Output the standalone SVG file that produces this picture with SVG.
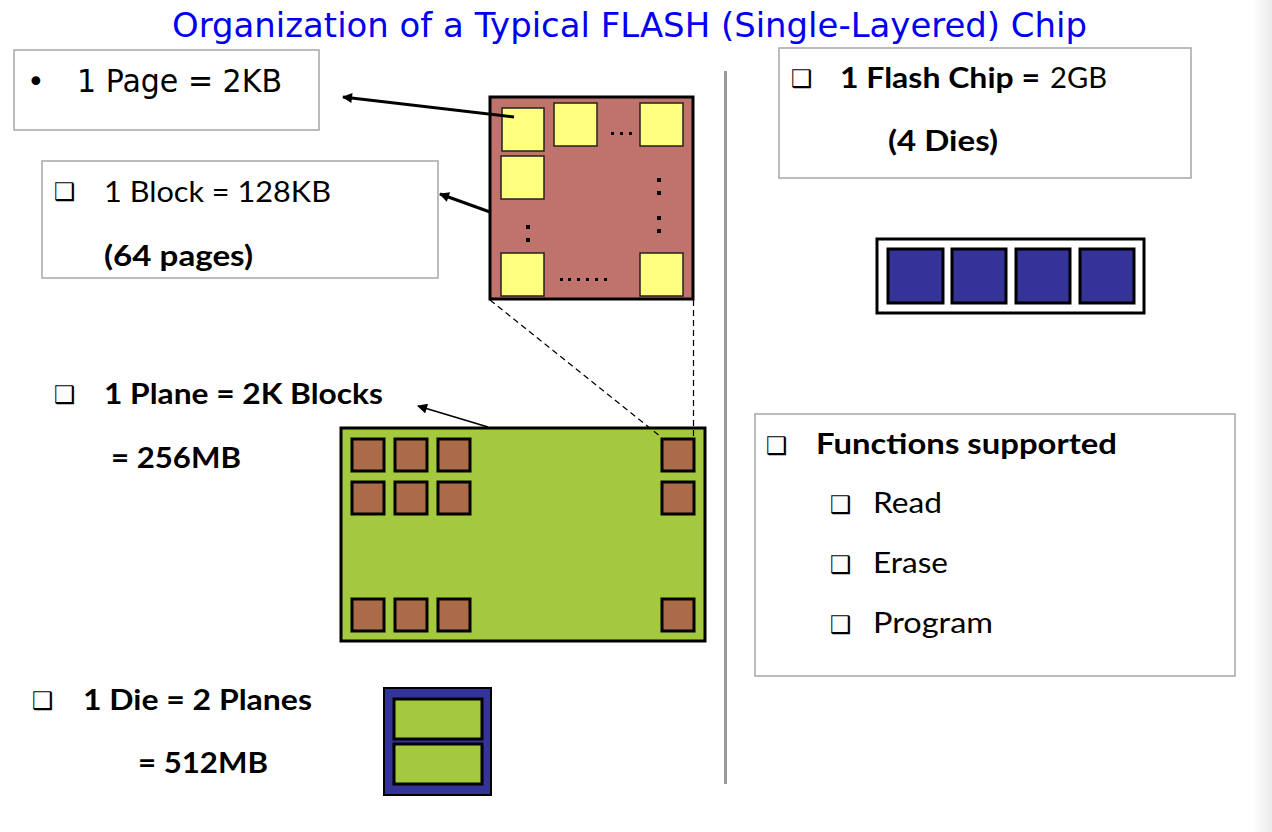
<svg xmlns="http://www.w3.org/2000/svg" width="1272" height="832" viewBox="0 0 1272 832">
<style>
.box{fill:#fff;stroke:#a6a6a6;stroke-width:1.5}
.comic{font-family:"DejaVu Sans",sans-serif;fill:#000}
.t{font-family:Lato,"Liberation Sans",sans-serif;fill:#000;font-size:28px}
.b{font-weight:bold}
.bul{font-family:"DejaVu Sans",sans-serif;font-size:24px;fill:#000;font-weight:bold}
.page{fill:#ffff80;stroke:#222;stroke-width:1.5}
.cell{fill:#ab6a48;stroke:#000;stroke-width:3}
.die{fill:#333399;stroke:#000;stroke-width:3}
.pl{fill:#a5c93e;stroke:#000;stroke-width:3}
.dot{fill:#000}
.arr{stroke:#000;fill:none}
.dash{stroke:#000;stroke-width:1.2;stroke-dasharray:6 4;fill:none}
</style>
<defs>
<marker id="ah" viewBox="0 0 10 10" refX="9" refY="5" markerWidth="12" markerHeight="10" markerUnits="userSpaceOnUse" orient="auto">
<path d="M0,0 L10,5 L0,10 z" fill="#000"/>
</marker>
<marker id="ahs" viewBox="0 0 10 10" refX="9" refY="5" markerWidth="12" markerHeight="10" markerUnits="userSpaceOnUse" orient="auto">
<path d="M0,0 L10,5 L0,10 z" fill="#000"/>
</marker>
<linearGradient id="edge" x1="0" y1="0" x2="1" y2="0">
<stop offset="0" stop-color="#fff"/>
<stop offset="1" stop-color="#ececec"/>
</linearGradient>
</defs>
<rect width="1272" height="832" fill="#fff"/>
<rect x="1252" y="0" width="20" height="832" fill="url(#edge)"/>

<text x="172" y="37" font-family="'DejaVu Sans',sans-serif" font-size="33" fill="#0000ee" textLength="915" lengthAdjust="spacingAndGlyphs">Organization of a Typical FLASH (Single-Layered) Chip</text>

<line x1="725.5" y1="71" x2="725.5" y2="784" stroke="#999" stroke-width="3"/>

<g id="page-label">
<rect class="box" x="14" y="50" width="305" height="80"/>
<text class="comic" x="27" y="92" font-size="30">•</text>
<text class="comic" x="77" y="92" font-size="32" textLength="205" lengthAdjust="spacingAndGlyphs">1 Page = 2KB</text>
</g>

<g id="block-label">
<rect class="box" x="42" y="161" width="396" height="117"/>
<text class="bul" x="54" y="200">❑</text>
<text class="t" x="104" y="202" textLength="227" lengthAdjust="spacingAndGlyphs">1 Block = 128KB</text>
<text class="t b" x="104" y="266" textLength="149" lengthAdjust="spacingAndGlyphs">(64 pages)</text>
</g>

<g id="block">
<rect x="490" y="97" width="203" height="202" fill="#c0736c" stroke="#000" stroke-width="3"/>
<rect class="page" x="502" y="108" width="42" height="43" stroke="#000" stroke-width="3.5"/>
<rect class="page" x="554" y="103" width="43" height="43"/>
<rect class="page" x="640" y="103" width="43" height="43"/>
<rect class="page" x="501" y="156" width="43" height="43"/>
<rect class="page" x="501" y="253" width="43" height="43"/>
<rect class="page" x="640" y="253" width="43" height="43"/>
<g class="dot">
<rect x="611" y="132" width="3" height="3"/><rect x="620" y="132" width="3" height="3"/><rect x="629" y="132" width="3" height="3"/>
<rect x="657" y="178" width="4" height="4"/><rect x="657" y="191" width="4" height="4"/><rect x="657" y="216" width="4" height="4"/><rect x="657" y="229" width="4" height="4"/>
<rect x="526" y="225" width="4" height="4"/><rect x="526" y="238" width="4" height="4"/>
<rect x="560" y="278" width="3" height="3"/><rect x="568" y="278" width="3" height="3"/><rect x="577" y="278" width="3" height="3"/><rect x="586" y="278" width="3" height="3"/><rect x="595" y="278" width="3" height="3"/><rect x="604" y="278" width="3" height="3"/>
</g>
</g>

<g id="plane-label">
<text class="bul" x="54" y="403">❑</text>
<text class="t b" x="104" y="404" textLength="279" lengthAdjust="spacingAndGlyphs">1 Plane = 2K Blocks</text>
<text class="t b" x="111" y="468" textLength="130" lengthAdjust="spacingAndGlyphs">= 256MB</text>
</g>

<g id="plane">
<rect x="341" y="428" width="364" height="213" fill="#a5c93e" stroke="#000" stroke-width="3"/>
<rect class="cell" x="352" y="439" width="32" height="32"/>
<rect class="cell" x="395" y="439" width="32" height="32"/>
<rect class="cell" x="438" y="439" width="32" height="32"/>
<rect class="cell" x="662" y="439" width="32" height="32"/>
<rect class="cell" x="352" y="482" width="32" height="32"/>
<rect class="cell" x="395" y="482" width="32" height="32"/>
<rect class="cell" x="438" y="482" width="32" height="32"/>
<rect class="cell" x="662" y="482" width="32" height="32"/>
<rect class="cell" x="352" y="599" width="32" height="32"/>
<rect class="cell" x="395" y="599" width="32" height="32"/>
<rect class="cell" x="438" y="599" width="32" height="32"/>
<rect class="cell" x="662" y="599" width="32" height="32"/>
</g>

<g id="die-label">
<text class="bul" x="32" y="709">❑</text>
<text class="t b" x="83" y="710" textLength="229" lengthAdjust="spacingAndGlyphs">1 Die = 2 Planes</text>
<text class="t b" x="138" y="773" textLength="130" lengthAdjust="spacingAndGlyphs">= 512MB</text>
</g>

<g id="die">
<rect x="384" y="688" width="107" height="107" fill="#333399" stroke="#000" stroke-width="2"/>
<rect class="pl" x="394" y="699" width="88" height="40"/>
<rect class="pl" x="394" y="744" width="88" height="40"/>
</g>

<g id="chip-label">
<rect class="box" x="779" y="48" width="412" height="130"/>
<text class="bul" x="791" y="87">❑</text>
<text class="t" x="840" y="88"><tspan class="b" textLength="200" lengthAdjust="spacingAndGlyphs">1 Flash Chip =</tspan><tspan x="1050" textLength="57" lengthAdjust="spacingAndGlyphs">2GB</tspan></text>
<text class="t b" x="888" y="151" textLength="110" lengthAdjust="spacingAndGlyphs">(4 Dies)</text>
</g>

<g id="chip">
<rect x="877" y="239" width="267" height="74" fill="#fff" stroke="#000" stroke-width="3"/>
<rect class="die" x="888" y="249" width="55" height="54"/>
<rect class="die" x="952" y="249" width="54" height="54"/>
<rect class="die" x="1016" y="249" width="54" height="54"/>
<rect class="die" x="1080" y="249" width="54" height="54"/>
</g>

<g id="functions">
<rect class="box" x="755" y="414" width="480" height="262"/>
<text class="bul" x="766" y="454">❑</text>
<text class="t b" x="816" y="454" font-size="30" textLength="301" lengthAdjust="spacingAndGlyphs">Functions supported</text>
<text class="bul" x="830" y="513">❑</text>
<text class="t" x="873" y="513" font-size="30" textLength="69" lengthAdjust="spacingAndGlyphs">Read</text>
<text class="bul" x="830" y="573">❑</text>
<text class="t" x="873" y="573" font-size="30" textLength="75" lengthAdjust="spacingAndGlyphs">Erase</text>
<text class="bul" x="830" y="633">❑</text>
<text class="t" x="873" y="633" font-size="30" textLength="120" lengthAdjust="spacingAndGlyphs">Program</text>
</g>

<g id="connectors">
<line class="arr" x1="514" y1="117" x2="343" y2="97" stroke-width="3" marker-end="url(#ah)"/>
<line class="arr" x1="490" y1="212" x2="440" y2="194" stroke-width="3" marker-end="url(#ah)"/>
<line class="arr" x1="488" y1="427" x2="418" y2="406" stroke-width="1.5" marker-end="url(#ahs)"/>
<line class="dash" x1="490" y1="300" x2="661" y2="437"/>
<line class="dash" x1="693.5" y1="300" x2="693.5" y2="437"/>
</g>
</svg>
